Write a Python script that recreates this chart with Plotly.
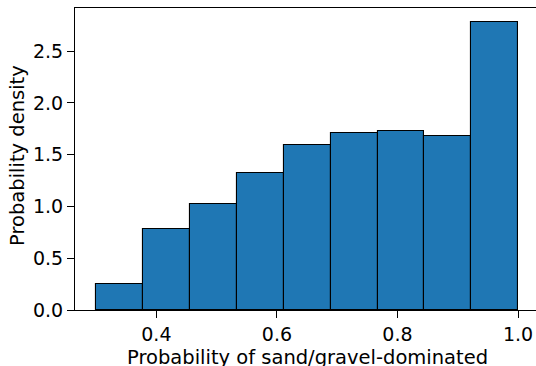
import plotly.graph_objects as go

bin_edges = [0.300, 0.378, 0.456, 0.533, 0.611, 0.689, 0.767, 0.844, 0.922, 1.000]
density = [0.25, 0.78, 1.02, 1.32, 1.59, 1.71, 1.73, 1.68, 2.78]
x_ticks = [0.4, 0.6, 0.8, 1.0]
x_tick_labels = ["0.4", "0.6", "0.8", "1.0"]
y_ticks = [0.0, 0.5, 1.0, 1.5, 2.0, 2.5]
y_tick_labels = ["0.0", "0.5", "1.0", "1.5", "2.0", "2.5"]
x_label = "Probability of sand/gravel-dominated"
y_label = "Probability density"

centers = [(a + b) / 2 for a, b in zip(bin_edges[:-1], bin_edges[1:])]
widths = [b - a for a, b in zip(bin_edges[:-1], bin_edges[1:])]

W, H = 536, 366
ml, mt, mb = 75, 8, 56
# matplotlib-like 5% margins; figure is cropped on the right
xmin = 0.265
xmax_full = 1.035
px_per_unit = (539.4 - 75.3) / (xmax_full - xmin)
xmax_vis = xmin + (W - ml) / px_per_unit

fig = go.Figure()
fig.add_trace(go.Bar(
    x=centers, y=density, width=widths,
    marker=dict(color="#1f77b4", line=dict(color="black", width=1.1)),
    showlegend=False,
))

tick_font = dict(family="DejaVu Sans", size=19, color="black")
label_font = dict(family="DejaVu Sans", size=19.5, color="black")
fig.update_layout(
    width=W, height=H,
    margin=dict(l=ml, r=0, t=mt, b=mb, pad=0),
    paper_bgcolor="white", plot_bgcolor="white",
    font=tick_font,
    bargap=0,
    xaxis=dict(
        range=[xmin, xmax_vis], tickvals=x_ticks, ticktext=x_tick_labels,
        showgrid=False, zeroline=False, showline=True, linecolor="black",
        linewidth=1, mirror=True, ticks="outside", ticklen=7, tickwidth=1,
        tickcolor="black", tickfont=tick_font,
    ),
    yaxis=dict(
        range=[0, 2.917], tickvals=y_ticks, ticktext=y_tick_labels,
        showgrid=False, zeroline=False, showline=True, linecolor="black",
        linewidth=1, mirror=False, ticks="outside", ticklen=7, tickwidth=1,
        tickcolor="black", tickfont=tick_font,
    ),
    annotations=[
        dict(text=x_label, xref="paper", yref="paper",
             x=(307.3 - ml) / (W - ml), y=-(344 - (H - mb)) / (H - mt - mb),
             xanchor="center", yanchor="top", showarrow=False, font=label_font),
        dict(text=y_label, xref="paper", yref="paper",
             x=-(ml - 18) / (W - ml), y=(310 - 156) / (H - mt - mb),
             xanchor="center", yanchor="middle", textangle=-90,
             showarrow=False, font=label_font),
    ],
)

fig.write_html("out.html")
